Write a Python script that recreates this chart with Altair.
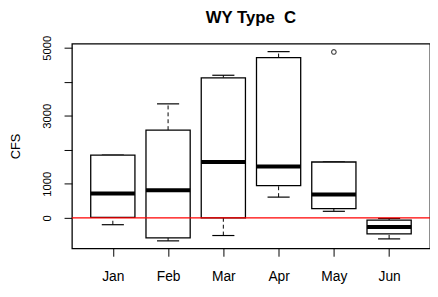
import altair as alt
import pandas as pd

months = ["Jan", "Feb", "Mar", "Apr", "May", "Jun"]
lower_whisker = [-203, -678, -521, 608, 191, -620]
q1 = [10, -591, 0, 945, 269, -475]
median = [713, 811, 1640, 1506, 684, -272]
q3 = [1843, 2578, 4113, 4711, 1640, -69]
upper_whisker = [1843, 3349, 4190, 4884, 1640, -20]
outlier_months = ["May"]
outlier_values = [4875]
y_ticks = [0, 1000, 2000, 3000, 4000, 5000]

df = pd.DataFrame({
    "idx": list(range(1, len(months) + 1)),
    "month": months,
    "lo": lower_whisker,
    "q1": q1,
    "med": median,
    "q3": q3,
    "hi": upper_whisker,
})
out_df = pd.DataFrame({
    "idx": [months.index(m) + 1 for m in outlier_months],
    "v": outlier_values,
})
zero_df = pd.DataFrame({"z": [0]})

FONT = "Liberation Sans"
label_expr = "[" + ",".join("'%s'" % m for m in months) + "][datum.value-1]"

xscale = alt.Scale(domain=[0.26, 6.74], nice=False, zero=False)
yscale = alt.Scale(domain=[-898, 5116], nice=False, zero=False)

xaxis = alt.Axis(values=list(range(1, len(months) + 1)), labelExpr=label_expr,
                 title=None, grid=False, domain=False, tickSize=8, tickColor="black",
                 labelColor="black", labelFont=FONT, labelFontSize=14, labelPadding=14)
yaxis = alt.Axis(values=y_ticks, format="d",
                 labelExpr="(datum.value==2000||datum.value==4000)?'':datum.label",
                 title="CFS", titleFont=FONT, titleFontSize=13, titleFontWeight="normal",
                 titleColor="black", titleX=-57, titleY=104, titleAngle=-90,
                 titleAlign="center", titleBaseline="middle",
                 grid=False, domain=False, tickSize=8, tickColor="black",
                 labelColor="black", labelFont=FONT, labelFontSize=11.5,
                 labelAngle=-90, labelAlign="center", labelBaseline="bottom", labelPadding=12)

base = alt.Chart(df).transform_calculate(
    xl="datum.idx-0.4", xr="datum.idx+0.4", sl="datum.idx-0.2", sr="datum.idx+0.2"
)

upper_wh = base.mark_rule(color="black", strokeWidth=1, strokeDash=[4, 3]).encode(
    x=alt.X("idx:Q", scale=xscale, axis=xaxis),
    y=alt.Y("q3:Q", scale=yscale, axis=yaxis),
    y2="hi:Q",
)
lower_wh = base.mark_rule(color="black", strokeWidth=1, strokeDash=[4, 3]).encode(
    x="idx:Q", y="lo:Q", y2="q1:Q")
staple_hi = base.mark_rule(color="black", strokeWidth=1.2).encode(
    x="sl:Q", x2="sr:Q", y="hi:Q")
staple_lo = base.mark_rule(color="black", strokeWidth=1.2).encode(
    x="sl:Q", x2="sr:Q", y="lo:Q")
box = base.mark_rect(fill="white", stroke="black", strokeWidth=1.3).encode(
    x="xl:Q", x2="xr:Q", y="q1:Q", y2="q3:Q")
med = base.mark_rule(color="black", strokeWidth=4, strokeCap="butt").encode(
    x="xl:Q", x2="xr:Q", y="med:Q")
outl = alt.Chart(out_df).mark_point(shape="circle", filled=False, color="black",
                                    size=22, strokeWidth=1.2).encode(
    x="idx:Q", y="v:Q")
zero = alt.Chart(zero_df).mark_rule(color="red", strokeWidth=1.2).encode(y="z:Q")

chart = alt.layer(upper_wh, lower_wh, staple_hi, staple_lo, box, med, outl, zero).properties(
    width=364, height=208,
    padding={"left": 65, "top": 34, "right": 0, "bottom": 40},
    autosize="none",
    title=alt.TitleParams("WY Type\u00a0 C", font=FONT, fontSize=17, fontWeight="bold",
                          color="black", anchor="middle", frame="group", offset=8),
).configure_view(stroke="black", strokeWidth=1.3)

chart.save("out.html", embed_options={"renderer": "svg", "actions": False})
